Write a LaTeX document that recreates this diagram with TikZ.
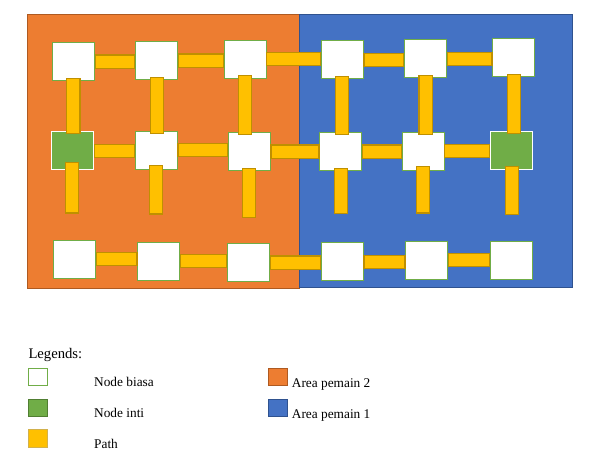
\documentclass[tikz,border=0pt]{standalone}
\usepackage{fontspec}
\setmainfont{Liberation Serif}
\usetikzlibrary{calc}

\definecolor{areaorange}{HTML}{ED7D31}
\definecolor{areaorangedark}{HTML}{AE5A21}
\definecolor{areablue}{HTML}{4472C4}
\definecolor{areabluedark}{HTML}{2F528F}
\definecolor{nodegreen}{HTML}{70AD47}
\definecolor{nodegreendark}{HTML}{507E32}
\definecolor{pathyellow}{HTML}{FFC000}
\definecolor{pathgold}{HTML}{BF9000}

\begin{document}
\begin{tikzpicture}[x=1pt, y=-1pt,
    box/.style={draw=nodegreen, fill=white, line width=0.9pt, minimum width=42pt, minimum height=38pt, inner sep=0pt},
    core/.style={box, draw=white, fill=nodegreen, line width=1.3pt},
    bar/.style={draw=pathgold, double=pathyellow, double distance=12pt, line width=1.2pt, line cap=rect, shorten <=7pt, shorten >=7pt},
    vbar/.style={bar, shorten <=4pt, shorten >=4pt},
    stub/.style={bar, shorten <=0pt, shorten >=0pt},
    keybox/.style={minimum width=19pt, minimum height=17.4pt, inner sep=0pt, line width=0.9pt},
    keytext/.style={anchor=base west, inner sep=0pt, font=\fontsize{13.33}{16}\selectfont}]
    \useasboundingbox (0,0) rectangle (607,459);

    % Areas
    \draw[fill=areaorange, draw=areaorangedark, line width=0.8pt] (27,14) rectangle (299,288);
    \draw[fill=areablue, draw=areabluedark, line width=0.8pt] (299,14) rectangle (572.5,287.5);

    % Nodes, top row
    \node[box] (n11) at (73.3,61.5) {};
    \node[box] (n12) at (156.7,60.5) {};
    \node[box] (n13) at (245,59) {};
    \node[box] (n14) at (342.2,59.8) {};
    \node[box] (n15) at (425.5,58.8) {};
    \node[box] (n16) at (513.8,57.3) {};
    % Nodes, middle row
    \node[core] (n21) at (72.2,150.8) {};
    \node[box] (n22) at (156.2,150) {};
    \node[box] (n23) at (249.2,151.5) {};
    \node[box] (n24) at (340.8,151.5) {};
    \node[box] (n25) at (423,151) {};
    \node[core] (n26) at (511.8,150.3) {};
    % Nodes, bottom row
    \node[box] (n31) at (74.7,259.2) {};
    \node[box] (n32) at (158.8,261.2) {};
    \node[box] (n33) at (248.3,262.5) {};
    \node[box] (n34) at (342.2,261.8) {};
    \node[box] (n35) at (426.8,260) {};
    \node[box] (n36) at (511.5,260.5) {};

    % Paths between rows
    \draw[vbar] (n11.south) -- (n11.south |- n21.north);
    \draw[vbar] (n12.south) -- (n12.south |- n22.north);
    \draw[vbar] (n13.south) -- (n13.south |- n23.north);
    \draw[vbar] (n14.south) -- (n14.south |- n24.north);
    \draw[vbar] (n15.south) -- (n15.south |- n25.north);
    \draw[vbar] (n16.south) -- (n16.south |- n26.north);

    % Paths hanging below the middle row
    \draw[stub] ([yshift=1pt]n21.south) -- ++(0,37);
    \draw[stub] ([yshift=-3pt]n22.south) -- ++(0,35);
    \draw[stub] ([yshift=-4pt]n23.south) -- ++(0,36);
    \draw[stub] ([yshift=-4pt]n24.south) -- ++(0,32);
    \draw[stub] ([yshift=-3pt]n25.south) -- ++(0,33);
    \draw[stub] ([yshift=-3pt]n26.south) -- ++(0,35);

    % Paths along the rows
    \draw[bar] (n11.east) -- (n11.east -| n12.west);
    \draw[bar] (n12.east) -- (n12.east -| n13.west);
    \draw[bar] (n13.east) -- (n13.east -| n14.west);
    \draw[bar] (n14.east) -- (n14.east -| n15.west);
    \draw[bar] (n15.east) -- (n15.east -| n16.west);
    \draw[bar] (n21.east) -- (n21.east -| n22.west);
    \draw[bar] (n22.east) -- (n22.east -| n23.west);
    \draw[bar] (n23.east) -- (n23.east -| n24.west);
    \draw[bar] (n24.east) -- (n24.east -| n25.west);
    \draw[bar] (n25.east) -- (n25.east -| n26.west);
    \draw[bar] (n31.east) -- (n31.east -| n32.west);
    \draw[bar] (n32.east) -- (n32.east -| n33.west);
    \draw[bar] (n33.east) -- (n33.east -| n34.west);
    \draw[bar] (n34.east) -- (n34.east -| n35.west);
    \draw[bar] (n35.east) -- (n35.east -| n36.west);

    % Legend
    \node[anchor=base west, inner sep=0pt, font=\fontsize{14.67}{17}\selectfont] (legtitle) at (28.3,358.3) {Legends:};
    \node[keybox, draw=nodegreen, fill=white] (keybiasa) at (37.8,377) {};
    \node[keybox, draw=nodegreendark, fill=nodegreen] (keyinti) at (37.8,407.8) {};
    \node[keybox, draw=pathgold!70, fill=pathyellow] (keypath) at (37.8,438.3) {};
    \node[keybox, draw=areaorangedark, fill=areaorange] (keyarea2) at (278,377.2) {};
    \node[keybox, draw=areabluedark, fill=areablue] (keyarea1) at (278,407.8) {};
    \node[keytext] (txtbiasa) at (94,386.7) {Node biasa};
    \node[keytext] (txtinti) at (94,417.5) {Node inti};
    \node[keytext] (txtpath) at (94,448.5) {Path};
    \node[keytext] (txtarea2) at (291.7,387.3) {Area pemain 2};
    \node[keytext] (txtarea1) at (291.7,418.5) {Area pemain 1};
\end{tikzpicture}
\end{document}
